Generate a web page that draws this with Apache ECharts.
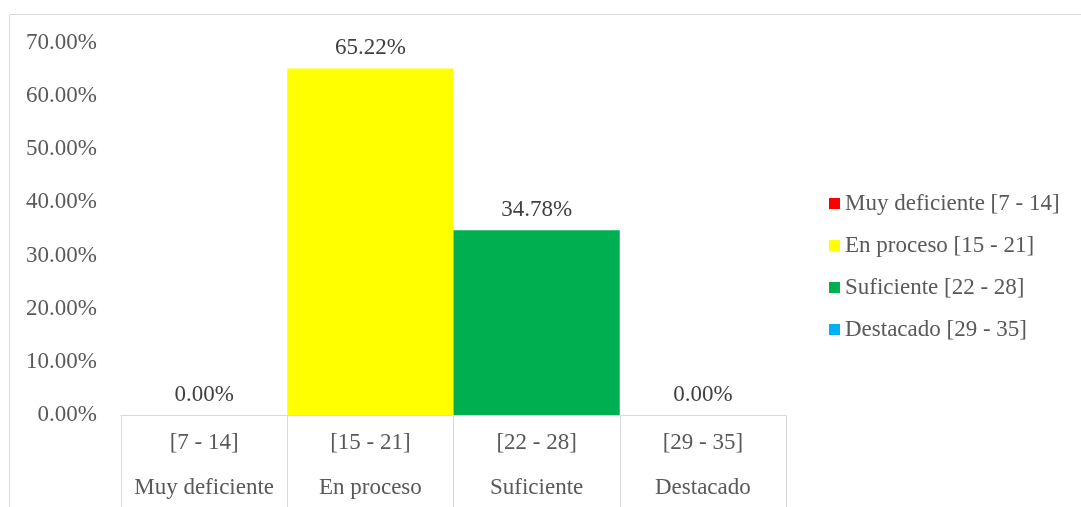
<!DOCTYPE html>
<html>
<head>
<meta charset="utf-8">
<title>Niveles</title>
<script src="https://cdn.jsdelivr.net/npm/echarts@6/dist/echarts.min.js"></script>
<style>
  html, body { margin: 0; padding: 0; background: #fff; }
  #chart { width: 1081px; height: 507px; }
</style>
</head>
<body>
<div id="chart"></div>
<script>
// rangos y niveles (eje de dos niveles)
const rangos = ["[7 - 14]", "[15 - 21]", "[22 - 28]", "[29 - 35]"];
const niveles = ["Muy deficiente", "En proceso", "Suficiente", "Destacado"];
const leyenda = ["Muy deficiente [7 - 14]", "En proceso [15 - 21]", "Suficiente [22 - 28]", "Destacado [29 - 35]"];
const porcentajes = [0, 65.22, 34.78, 0];
const colores = ["#FF0000", "#FFFF00", "#00B050", "#00B0F0"];
const yTicks = [0, 10, 20, 30, 40, 50, 60, 70];

const font = "'Liberation Serif', 'Times New Roman', serif";
const gris = "#595959";

const myChart = echarts.init(document.getElementById("chart"));

let series = leyenda.map((name, i) => ({
  name: name,
  type: "bar",
  stack: "total",
  barWidth: "100%",
  itemStyle: { color: colores[i] },
  label: {
    show: true,
    position: "top",
    distance: 9,
    color: "#404040",
    fontFamily: font,
    fontSize: 23,
    formatter: p => p.value.toFixed(2) + "%"
  },
  data: rangos.map((_, j) => (j === i ? porcentajes[i] : "-"))
}));

let option = {
  animation: false,
  textStyle: { fontFamily: font },
  graphic: [
    {
      type: "rect",
      shape: { x: 9.5, y: 14.5, width: 1200, height: 600 },
      style: { fill: "none", stroke: "#d9d9d9", lineWidth: 1 },
      silent: true
    }
  ],
  grid: { left: 121, right: 295, top: 43, bottom: 92, containLabel: false },
  legend: {
    orient: "vertical",
    left: 824,
    top: 187,
    itemWidth: 11,
    itemHeight: 11,
    itemGap: 19,
    itemTextGap: 5,
    icon: "rect",
    data: leyenda,
    textStyle: { color: gris, fontFamily: font, fontSize: 23, lineHeight: 23 }
  },
  xAxis: {
    type: "category",
    data: rangos,
    axisLine: { lineStyle: { color: "#d9d9d9" } },
    axisTick: { show: true, length: 95, interval: 0, lineStyle: { color: "#d9d9d9" } },
    axisLabel: {
      interval: 0,
      margin: 5,
      color: gris,
      formatter: (v, i) => "{a|" + v + "}\n{b|" + niveles[i] + "}",
      rich: {
        a: { fontFamily: font, fontSize: 23, lineHeight: 45, color: gris },
        b: { fontFamily: font, fontSize: 23, lineHeight: 45, color: gris }
      }
    }
  },
  yAxis: {
    type: "value",
    min: yTicks[0],
    max: yTicks[yTicks.length - 1],
    interval: 10,
    axisLine: { show: false },
    axisTick: { show: false },
    splitLine: { show: false },
    axisLabel: {
      margin: 24,
      color: gris,
      fontFamily: font,
      fontSize: 23,
      formatter: v => v.toFixed(2) + "%"
    }
  },
  series: series
};

myChart.setOption(option);
</script>
</body>
</html>
